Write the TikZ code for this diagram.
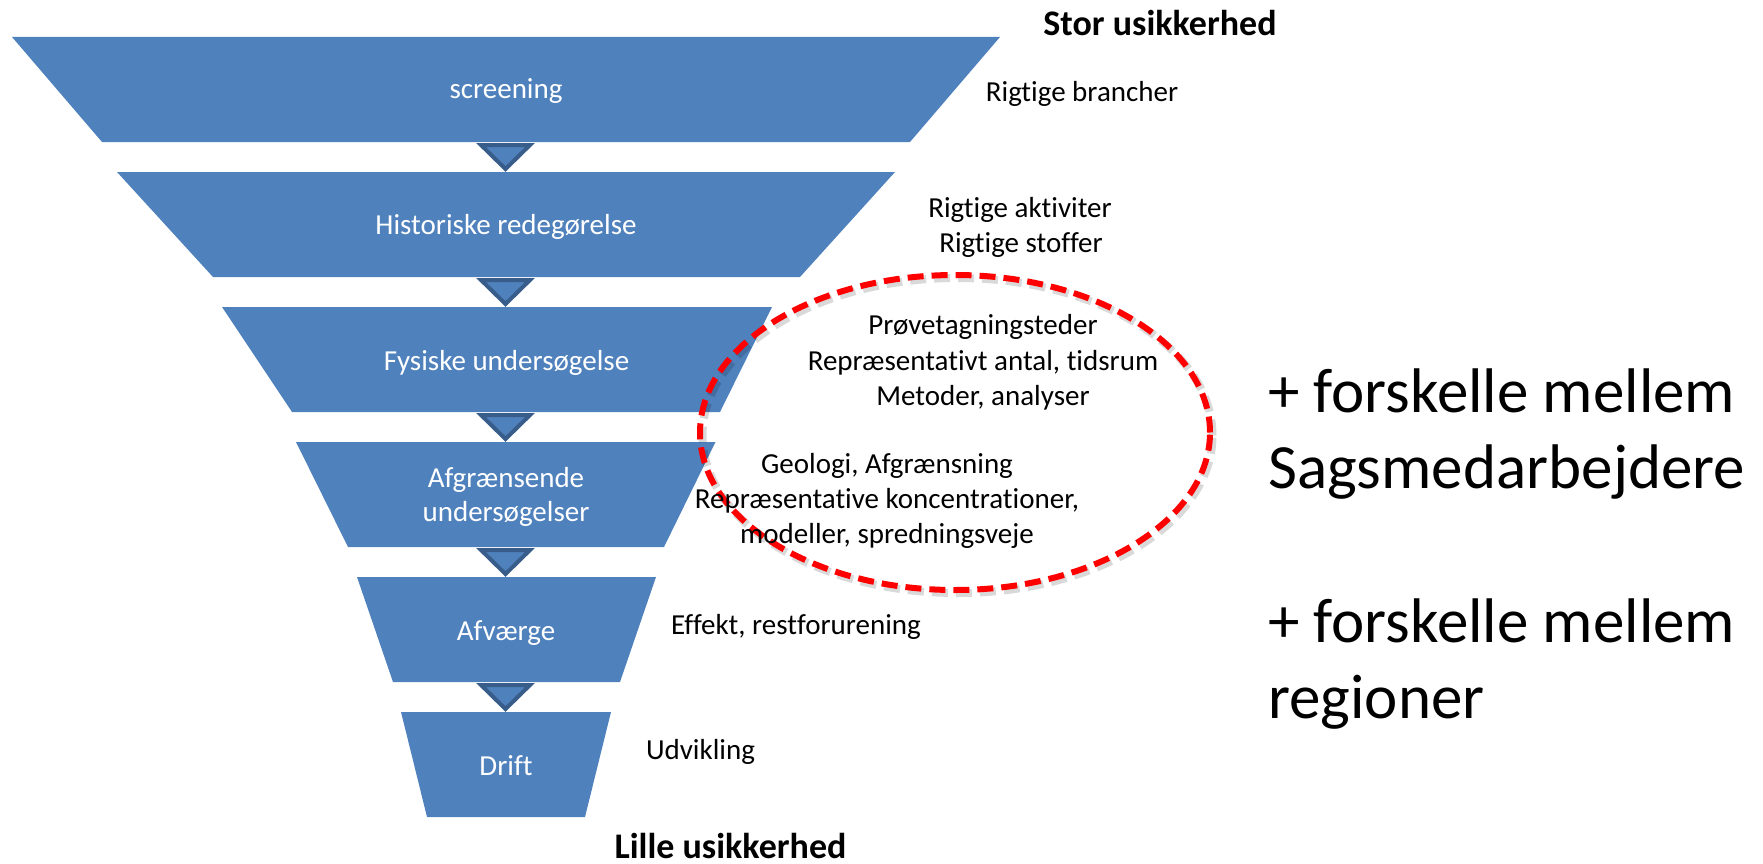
\documentclass[tikz,border=0pt]{standalone}
\usepackage{fontspec}
\setmainfont{Carlito}[Ligatures=NoCommon]
\definecolor{funnel}{HTML}{4F81BD}
\definecolor{arrowedge}{HTML}{385D8A}
\definecolor{ellred}{HTML}{FF0000}
\begin{document}
\begin{tikzpicture}[x=1pt,y=-1pt,
  stage/.style={fill=funnel},
  tri/.style={fill=funnel,draw=arrowedge,line width=4pt,line join=miter},
  intext/.style={text=white,font=\fontsize{29}{35}\selectfont,anchor=base,inner sep=0pt},
  side/.style={text=black,font=\fontsize{29}{35}\selectfont,anchor=base,inner sep=0pt},
  boldlabel/.style={text=black,font=\fontsize{36}{43}\selectfont\bfseries,anchor=base,inner sep=0pt},
  big/.style={text=black,font=\fontsize{63}{75}\selectfont,anchor=base west,inner sep=0pt},
  ellshadow/.style={draw=black,opacity=0.15,line width=8pt,dash pattern=on 16pt off 8pt},
  ellline/.style={draw=ellred,line width=6pt,dash pattern=on 16pt off 8pt},
]
\useasboundingbox (0,0) rectangle (1763,864);

% funnel stages
\fill[stage] (12,37) -- (1000,37) -- (910,142) -- (102,142) -- cycle;
\fill[stage] (117,172) -- (895,172) -- (800,277) -- (213,277) -- cycle;
\fill[stage] (222,307) -- (772,307) -- (720,412) -- (292,412) -- cycle;
\fill[stage] (296,442) -- (715.5,442) -- (664,547) -- (348,547) -- cycle;
\fill[stage] (357,577) -- (656,577) -- (620,682) -- (393,682) -- cycle;
\fill[stage] (401,712) -- (611,712) -- (585,817) -- (427,817) -- cycle;

% down triangles
\draw[tri] (481,145) -- (530,145) -- (505.5,169) -- cycle;
\draw[tri] (481,280) -- (530,280) -- (505.5,304) -- cycle;
\draw[tri] (481,415) -- (530,415) -- (505.5,439) -- cycle;
\draw[tri] (481,550) -- (530,550) -- (505.5,574) -- cycle;
\draw[tri] (481,685) -- (530,685) -- (505.5,709) -- cycle;

% stage labels
\node[intext] (s1) at (506,99) {screening};
\node[intext] (s2) at (506,234) {Historiske redegørelse};
\node[intext] (s3) at (506.5,370) {Fysiske undersøgelse};
\node[intext] (s4a) at (506,487) {Afgrænsende};
\node[intext] (s4b) at (506,521) {undersøgelser};
\node[intext] (s5) at (506,640) {Afværge};
\node[intext] (s6) at (506,775) {Drift};

% ellipse
\draw[ellshadow] (957.5,435.5) ellipse [x radius=255pt, y radius=157.5pt];
\draw[ellline] (955,432.5) ellipse [x radius=255pt, y radius=157.5pt];

% side labels
\node[side] (r1) at (1082,102) {Rigtige brancher};
\node[side] (r2a) at (1020,217) {Rigtige aktiviter};
\node[side] (r2b) at (1021,252) {Rigtige stoffer};
\node[side] (r3a) at (983,334) {Prøvetagningsteder};
\node[side] (r3b) at (983,370) {Repræsentativt antal, tidsrum};
\node[side] (r3c) at (983,405) {Metoder, analyser};
\node[side] (r4a) at (887,473) {Geologi, Afgrænsning};
\node[side] (r4b) at (887,508) {Repræsentative koncentrationer,};
\node[side] (r4c) at (887,543) {modeller, spredningsveje};
\node[side] (r5) at (796,634) {Effekt, restforurening};
\node[side] (r6) at (700.5,759) {Udvikling};

% top / bottom labels
\node[boldlabel] (top) at (1160,36) {Stor usikkerhed};
\node[boldlabel] (bottom) at (730.5,858) {Lille usikkerhed};

% big labels
\node[big] (b1) at (1268,412) {+ forskelle mellem};
\node[big] (b2) at (1268,488) {Sagsmedarbejdere};
\node[big] (b3) at (1268,642) {+ forskelle mellem};
\node[big] (b4) at (1268,718) {regioner};
\end{tikzpicture}
\end{document}
